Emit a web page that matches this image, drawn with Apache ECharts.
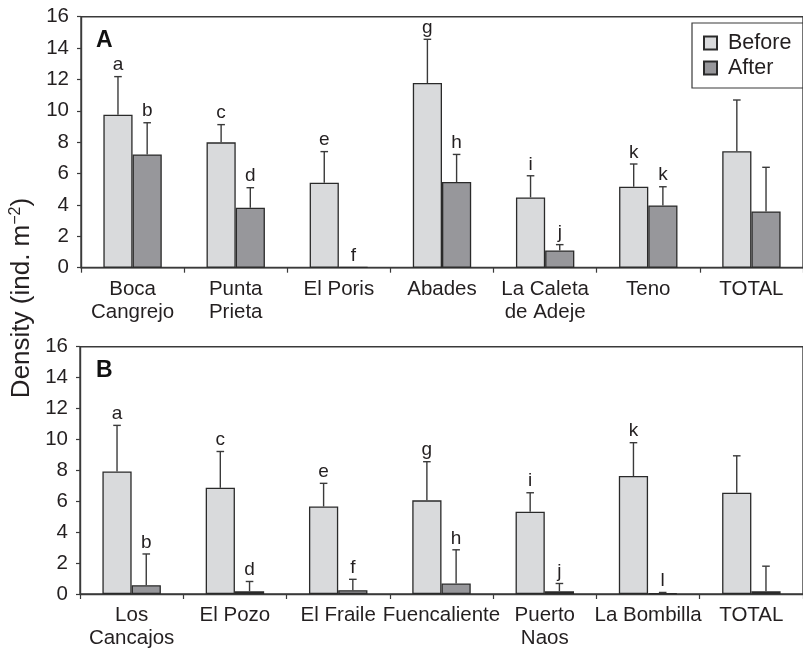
<!DOCTYPE html>
<html>
<head>
<meta charset="utf-8">
<script src="https://cdn.jsdelivr.net/npm/echarts@6/dist/echarts.min.js"></script>
<style>
  html, body { margin: 0; padding: 0; background: #ffffff; }
  #chart { width: 803px; height: 650px; }
</style>
</head>
<body>
<div id="chart"></div>
<script>
// ---------- Data ----------
const categoriesA = ['Boca\nCangrejo', 'Punta\nPrieta', 'El Poris', 'Abades', 'La Caleta\nde Adeje', 'Teno', 'TOTAL'];
const beforeA   = [9.75, 7.99, 5.42, 11.77, 4.48, 5.16, 7.42];
const beforeSdA = [2.43, 1.13, 1.98, 2.79, 1.38, 1.45, 3.27];
const afterA    = [7.22, 3.82, 0.05, 5.46, 1.10, 3.97, 3.59];
const afterSdA  = [2.02, 1.28, 0.00, 1.76, 0.37, 1.19, 2.81];
const lettersBeforeA = ['a', 'c', 'e', 'g', 'i', 'k', ''];
const lettersAfterA  = ['b', 'd', 'f', 'h', 'j', 'k', ''];

const categoriesB = ['Los\nCancajos', 'El Pozo', 'El Fraile', 'Fuencaliente', 'Puerto\nNaos', 'La Bombilla', 'TOTAL'];
const beforeB   = [7.93, 6.87, 5.66, 6.06, 5.32, 7.63, 6.55];
const beforeSdB = [2.98, 2.35, 1.50, 2.50, 1.23, 2.16, 2.39];
const afterB    = [0.57, 0.17, 0.25, 0.68, 0.17, 0.06, 0.17];
const afterSdB  = [2.02, 0.64, 0.70, 2.18, 0.51, 0.04, 1.63];
const lettersBeforeB = ['a', 'c', 'e', 'g', 'i', 'k', ''];
const lettersAfterB  = ['b', 'd', 'f', 'h', 'j', 'l', ''];

const yTicks = [0, 2, 4, 6, 8, 10, 12, 14, 16];
const seriesNames = ['Before', 'After'];

// ---------- Styling ----------
const FONT = '"Liberation Sans", Arial, Helvetica, sans-serif';
const TEXT = '#231f20';
const AXIS = '#3a3a3a';
const BEFORE_FILL = '#d9dadc';
const AFTER_FILL = '#97979b';
const BAR_FRAC = 0.283;

function errSeries(name, gridIdx, means, sds, letters, side) {
  const data = means.map((m, i) => [i, m, m + sds[i]]);
  return {
    type: 'custom',
    name: name,
    xAxisIndex: gridIdx,
    yAxisIndex: gridIdx,
    z: 5,
    silent: true,
    encode: { x: 0, y: [1, 2] },
    data: data,
    renderItem: function (params, api) {
      const i = api.value(0);
      const m = api.value(1);
      const top = api.value(2);
      const base = api.coord([i, m]);
      const cap = api.coord([i, top]);
      const band = api.size([1, 0])[0];
      const x = base[0] + side * band * BAR_FRAC / 2;
      const children = [];
      const sd = top - m;
      if (sd > 0.001) {
        children.push({
          type: 'line',
          shape: { x1: x, y1: base[1], x2: x, y2: cap[1] },
          style: { stroke: AXIS, lineWidth: 1.4 }
        });
        children.push({
          type: 'line',
          shape: { x1: x - 3.8, y1: cap[1], x2: x + 3.8, y2: cap[1] },
          style: { stroke: AXIS, lineWidth: 1.4 }
        });
      }
      const letter = letters[params.dataIndex];
      if (letter) {
        children.push({
          type: 'text',
          style: {
            x: x, y: cap[1] - 2,
            text: letter,
            textAlign: 'center',
            textVerticalAlign: 'bottom',
            fontSize: 19,
            fontFamily: FONT,
            fill: TEXT
          }
        });
      }
      return { type: 'group', children: children };
    }
  };
}

function barSeries(name, gridIdx, values, fill) {
  return {
    type: 'bar',
    name: name,
    xAxisIndex: gridIdx,
    yAxisIndex: gridIdx,
    data: values,
    barWidth: (BAR_FRAC * 100) + '%',
    barGap: '0%',
    itemStyle: { color: fill, borderColor: '#2a2a2a', borderWidth: 1.3 },
    emphasis: { disabled: true },
    animation: false
  };
}

function xAxisCfg(gridIdx, cats) {
  return {
    type: 'category',
    gridIndex: gridIdx,
    data: cats,
    axisLine: { lineStyle: { color: AXIS, width: 1.4 } },
    axisTick: { show: true, length: 5, lineStyle: { color: AXIS, width: 1.2 } },
    axisLabel: {
      interval: 0, margin: 10, fontSize: 20.5, lineHeight: 23,
      fontFamily: FONT, color: TEXT
    },
    splitLine: { show: false }
  };
}

function yAxisCfg(gridIdx) {
  return {
    type: 'value',
    gridIndex: gridIdx,
    min: yTicks[0],
    max: yTicks[yTicks.length - 1],
    interval: yTicks[1] - yTicks[0],
    axisLine: { show: true, lineStyle: { color: AXIS, width: 1.4 } },
    axisTick: { show: true, length: 4, lineStyle: { color: AXIS, width: 1.2 } },
    axisLabel: { margin: 12, fontSize: 20.5, fontFamily: FONT, color: TEXT },
    splitLine: { show: false }
  };
}

const chart = echarts.init(document.getElementById('chart'), null, { renderer: 'canvas' });

const option = {
  backgroundColor: '#ffffff',
  animation: false,
  textStyle: { fontFamily: FONT },
  grid: [
    { left: 81, right: -8, top: 16.7, bottom: 382.3, show: true, borderColor: AXIS, borderWidth: 1.4, backgroundColor: 'transparent' },
    { left: 80, right: -9, top: 346.7, bottom: 51.7, show: true, borderColor: AXIS, borderWidth: 1.4, backgroundColor: 'transparent' }
  ],
  legend: {
    data: seriesNames,
    orient: 'vertical',
    left: 692,
    top: 23,
    padding: [9, 40, 9, 11],
    itemGap: 3,
    itemWidth: 13,
    itemHeight: 13,
    borderColor: AXIS,
    borderWidth: 1.2,
    borderRadius: 0,
    icon: 'rect',
    selectedMode: false,
    textStyle: { fontSize: 21.5, lineHeight: 22, fontFamily: FONT, color: TEXT, padding: [0, 0, 0, 6] }
  },
  xAxis: [xAxisCfg(0, categoriesA), xAxisCfg(1, categoriesB)],
  yAxis: [yAxisCfg(0), yAxisCfg(1)],
  series: [
    barSeries(seriesNames[0], 0, beforeA, BEFORE_FILL),
    barSeries(seriesNames[1], 0, afterA, AFTER_FILL),
    barSeries(seriesNames[0], 1, beforeB, BEFORE_FILL),
    barSeries(seriesNames[1], 1, afterB, AFTER_FILL),
    errSeries('errBeforeA', 0, beforeA, beforeSdA, lettersBeforeA, -1),
    errSeries('errAfterA', 0, afterA, afterSdA, lettersAfterA, 1),
    errSeries('errBeforeB', 1, beforeB, beforeSdB, lettersBeforeB, -1),
    errSeries('errAfterB', 1, afterB, afterSdB, lettersAfterB, 1)
  ],
  graphic: [
    {
      type: 'text', left: 96, top: 29,
      style: { text: 'A', fontSize: 23, fontWeight: 'bold', fontFamily: FONT, fill: '#111' }
    },
    {
      type: 'text', left: 96, top: 359,
      style: { text: 'B', fontSize: 23, fontWeight: 'bold', fontFamily: FONT, fill: '#111' }
    },
    {
      type: 'text',
      x: 22, y: 298,
      rotation: Math.PI / 2,
      style: {
        text: '{m|Density (ind. m}{s|−2}{m|)}',
        align: 'center',
        verticalAlign: 'middle',
        rich: {
          m: { fontSize: 26, fontFamily: FONT, fill: TEXT, color: TEXT },
          s: { fontSize: 16, fontFamily: FONT, fill: TEXT, color: TEXT, padding: [0, 0, 12, 0] }
        }
      }
    }
  ]
};

chart.setOption(option);
</script>
</body>
</html>
